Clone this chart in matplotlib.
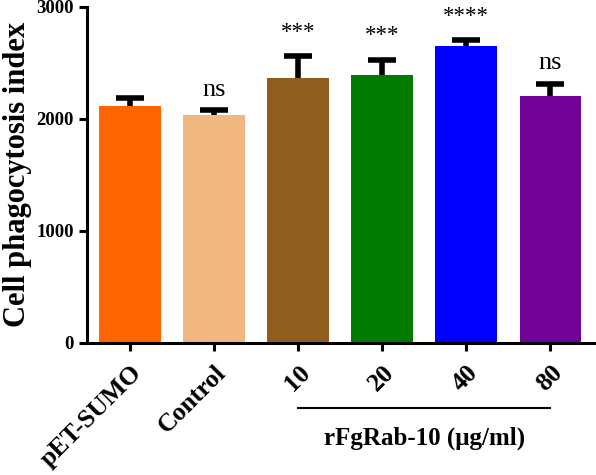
import numpy as np
import matplotlib.pyplot as plt

plt.rcParams['font.family'] = ['Liberation Serif', 'DejaVu Serif']

# data
groups = ['pET-SUMO', 'Control', '10', '20', '40', '80']
means = [2116, 2035, 2364, 2393, 2653, 2206]
errors = [70, 43, 194, 132, 48, 107]
signif = ['', 'ns', '***', '***', '****', 'ns']
colors = ['#FF6600', '#F0B880', '#8F5E1E', '#007A00', '#0000FF', '#720399']

fig = plt.figure(figsize=(5.96, 4.75), dpi=100)
ax = fig.add_axes([0.146, 0.278, 0.852, 0.708])

x = np.arange(len(groups))
means = np.array(means)
errors = np.array(errors)
ax.bar(x, means, width=0.73, color=colors, zorder=2)

# upper error bars only
tops = means + errors
ax.vlines(x, means, tops, color='black', lw=4, zorder=3)
ax.hlines(tops, x - 0.165, x + 0.165, color='black', lw=4, zorder=3)

for xi, t, s in zip(x, tops, signif):
    if s.startswith('*'):
        ax.text(xi, t + 120, s, ha='center', va='bottom', fontsize=16.5)
    elif s:
        ax.text(xi, t + 180, s, ha='center', va='center', fontsize=19)

ax.set_xlim(-0.51, 5.53)
ax.set_ylim(0, 3000)
ax.set_yticks([0, 1000, 2000, 3000])
ax.set_xticks(x)
ax.set_xticklabels(groups, rotation=45, ha='right', rotation_mode='anchor',
                   fontsize=18.5, fontweight='bold')
for lab in ax.get_yticklabels():
    lab.set_fontweight('bold')
    lab.set_fontsize(13.5)
ax.set_ylabel('Cell phagocytosis index', fontsize=22, fontweight='bold',
              labelpad=3)

for sp in ['top', 'right']:
    ax.spines[sp].set_visible(False)
for sp in ['left', 'bottom']:
    ax.spines[sp].set_linewidth(2.2)
ax.tick_params(width=2.2, length=6, direction='out')
ax.tick_params(axis='x', pad=7)

# group bracket for the rFgRab-10 doses
ax.plot([2, 5], [-580, -580], color='black', lw=1.5, clip_on=False)
ax.annotate('rFgRab-10 (μg/ml)', xy=(3.5, -850), xycoords='data',
            ha='center', va='center', fontsize=18, fontweight='bold',
            annotation_clip=False)

fig.savefig('out.png', dpi=100)
